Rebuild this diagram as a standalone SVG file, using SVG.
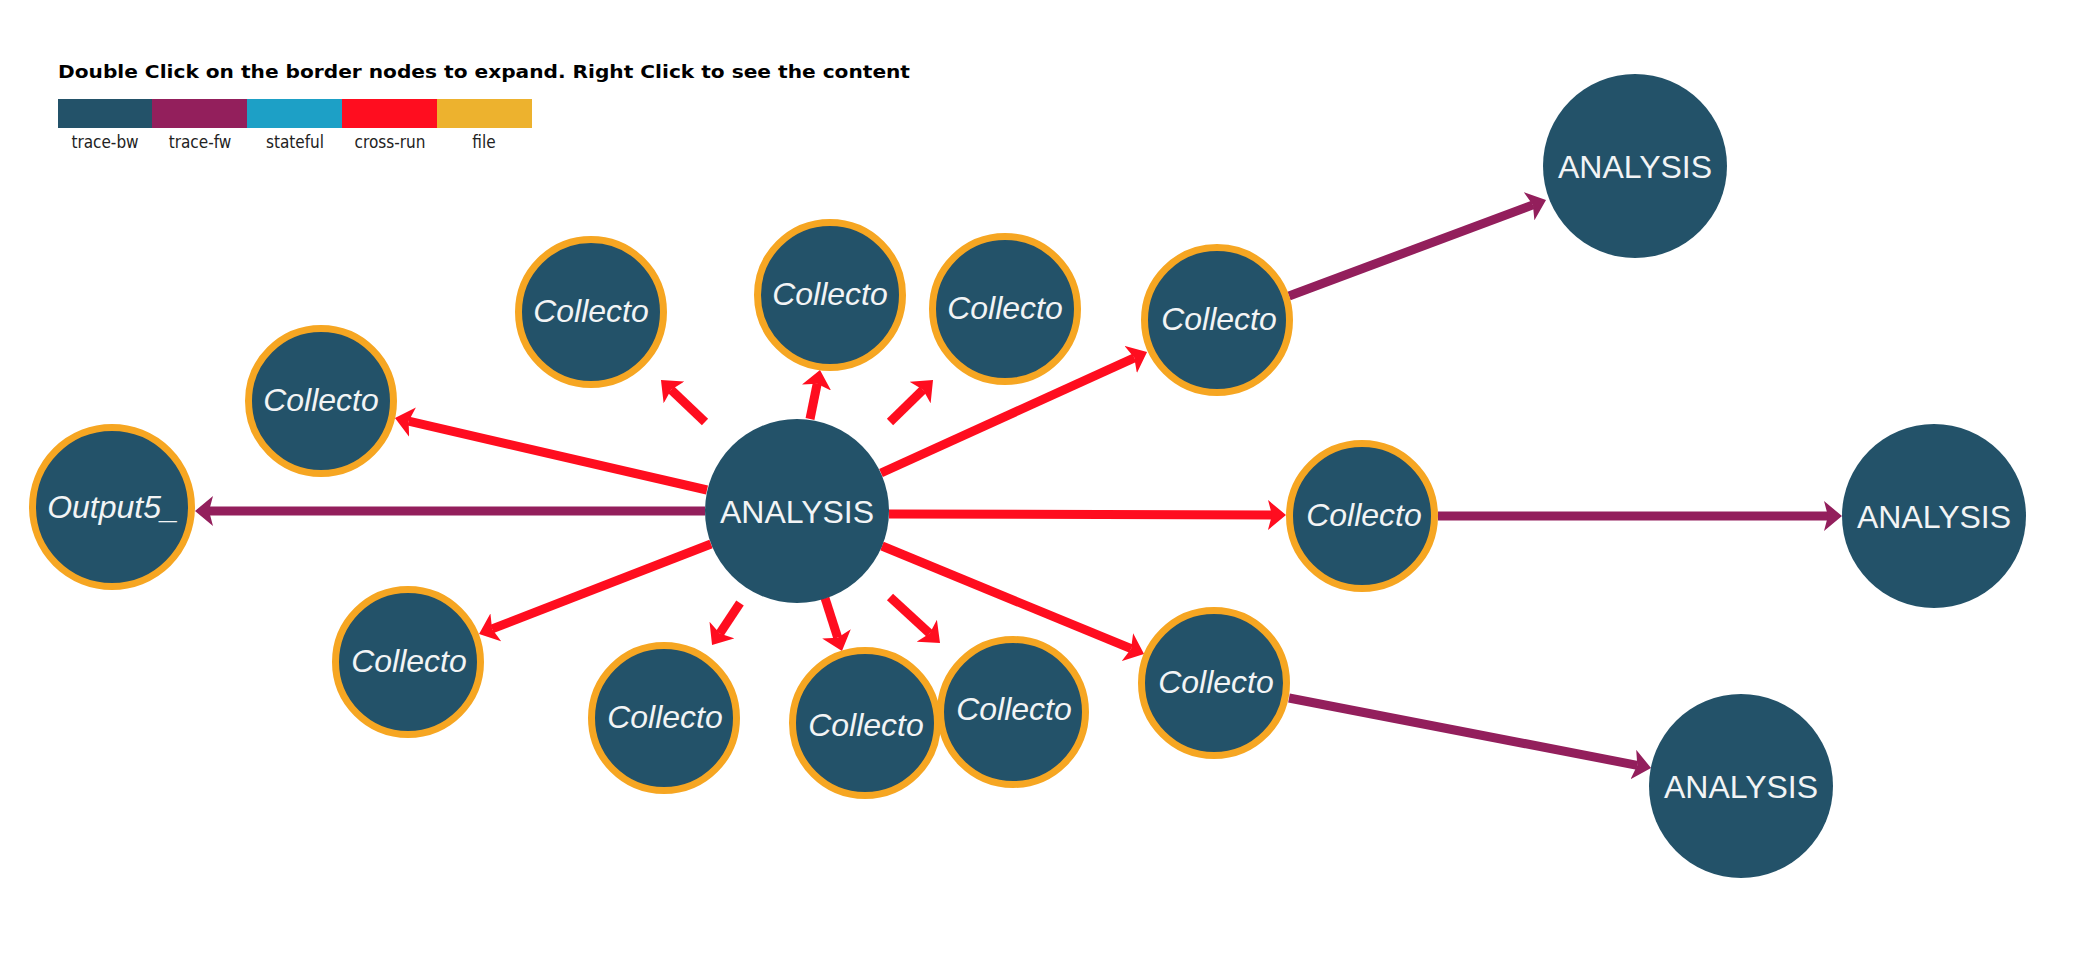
<svg xmlns="http://www.w3.org/2000/svg" width="2085" height="962" viewBox="0 0 2085 962">
<style>
.title{font-family:"DejaVu Sans","Liberation Sans",sans-serif;font-weight:bold;font-size:18px;fill:#000}
.leg{font-family:"DejaVu Sans Condensed","DejaVu Sans",sans-serif;font-size:17px;fill:#222;text-anchor:middle}
.e{fill:none;stroke-width:9;stroke-linecap:butt}
.cr{stroke:#FF0D1F}
.fw{stroke:#931F5C}
.nf{fill:#235269;stroke:#F6A622;stroke-width:7}
.na{fill:#235269}
.lbl{font-family:"Liberation Sans",Arial,sans-serif;font-size:32px;fill:#F2F4F5;text-anchor:middle}
.it{font-style:italic}
</style>
<defs>
<marker id="ar" viewBox="0 0 18 30" refX="4" refY="15" markerWidth="18" markerHeight="30" markerUnits="userSpaceOnUse" orient="auto">
<path d="M0,0 L18,15 L0,30 L4,15 Z" fill="#FF0D1F"/>
</marker>
<marker id="ap" viewBox="0 0 18 30" refX="4" refY="15" markerWidth="18" markerHeight="30" markerUnits="userSpaceOnUse" orient="auto">
<path d="M0,0 L18,15 L0,30 L4,15 Z" fill="#931F5C"/>
</marker>
</defs>
<rect width="2085" height="962" fill="#fff"/>
<g id="legend">
<text class="title" x="58" y="78" textLength="852" lengthAdjust="spacingAndGlyphs">Double Click on the border nodes to expand. Right Click to see the content</text>
<rect x="58" y="99" width="95" height="29" fill="#235269"/>
<rect x="152" y="99" width="96" height="29" fill="#931F5C"/>
<rect x="247" y="99" width="96" height="29" fill="#1DA0C6"/>
<rect x="342" y="99" width="96" height="29" fill="#FF0D1F"/>
<rect x="437" y="99" width="95" height="29" fill="#EDB22E"/>
<text class="leg" x="105" y="148">trace-bw</text>
<text class="leg" x="200" y="148">trace-fw</text>
<text class="leg" x="295" y="148">stateful</text>
<text class="leg" x="390" y="148">cross-run</text>
<text class="leg" x="484" y="148">file</text>
</g>
<g id="connectors">
<line class="e cr" x1="707" y1="490" x2="408.6" y2="421.2" marker-end="url(#ar)"/>
<line class="e cr" x1="705" y1="422" x2="671.1" y2="389.7" marker-end="url(#ar)"/>
<line class="e cr" x1="810" y1="419" x2="817.2" y2="383.7" marker-end="url(#ar)"/>
<line class="e cr" x1="890" y1="422" x2="923" y2="389.8" marker-end="url(#ar)"/>
<line class="e cr" x1="881" y1="473" x2="1134.3" y2="357.8" marker-end="url(#ar)"/>
<line class="e cr" x1="889" y1="514" x2="1272" y2="515" marker-end="url(#ar)"/>
<line class="e cr" x1="882" y1="546" x2="1131.1" y2="648.7" marker-end="url(#ar)"/>
<line class="e cr" x1="711" y1="544" x2="492.1" y2="628.9" marker-end="url(#ar)"/>
<line class="e cr" x1="740" y1="603" x2="719.8" y2="633.4" marker-end="url(#ar)"/>
<line class="e cr" x1="825" y1="598" x2="837.7" y2="637.7" marker-end="url(#ar)"/>
<line class="e cr" x1="890" y1="597" x2="929.7" y2="633.5" marker-end="url(#ar)"/>
<line class="e fw" x1="705" y1="511" x2="209" y2="511" marker-end="url(#ap)"/>
<line class="e fw" x1="1289" y1="296" x2="1532.9" y2="204.9" marker-end="url(#ap)"/>
<line class="e fw" x1="1438" y1="516" x2="1828" y2="516" marker-end="url(#ap)"/>
<line class="e fw" x1="1289" y1="698" x2="1637.3" y2="765.3" marker-end="url(#ap)"/>
</g>
<g id="n-center"><circle class="na" cx="797" cy="511" r="92"/><text class="lbl" x="797" y="523">ANALYSIS</text></g>
<g id="n-output5"><circle class="nf" cx="112" cy="507" r="79.5"/><text class="lbl it" x="113" y="518">Output5_</text></g>
<g id="n-l1"><circle class="nf" cx="321" cy="401" r="72.5"/><text class="lbl it" x="321" y="411">Collecto</text></g>
<g id="n-t1"><circle class="nf" cx="591" cy="312" r="72.5"/><text class="lbl it" x="591" y="322">Collecto</text></g>
<g id="n-t2"><circle class="nf" cx="830" cy="295" r="72.5"/><text class="lbl it" x="830" y="305">Collecto</text></g>
<g id="n-t3"><circle class="nf" cx="1005" cy="309" r="72.5"/><text class="lbl it" x="1005" y="319">Collecto</text></g>
<g id="n-r1"><circle class="nf" cx="1217" cy="320" r="72.5"/><text class="lbl it" x="1219" y="330">Collecto</text></g>
<g id="n-r2"><circle class="nf" cx="1362" cy="516" r="72.5"/><text class="lbl it" x="1364" y="526">Collecto</text></g>
<g id="n-r3"><circle class="nf" cx="1214" cy="683" r="72.5"/><text class="lbl it" x="1216" y="693">Collecto</text></g>
<g id="n-b1"><circle class="nf" cx="408" cy="662" r="72.5"/><text class="lbl it" x="409" y="672">Collecto</text></g>
<g id="n-b2"><circle class="nf" cx="664" cy="718" r="72.5"/><text class="lbl it" x="665" y="728">Collecto</text></g>
<g id="n-b3"><circle class="nf" cx="865" cy="723" r="72.5"/><text class="lbl it" x="866" y="736">Collecto</text></g>
<g id="n-b4"><circle class="nf" cx="1013" cy="712" r="72.5"/><text class="lbl it" x="1014" y="720">Collecto</text></g>
<g id="n-tr"><circle class="na" cx="1635" cy="166" r="92"/><text class="lbl" x="1635" y="178">ANALYSIS</text></g>
<g id="n-r"><circle class="na" cx="1934" cy="516" r="92"/><text class="lbl" x="1934" y="528">ANALYSIS</text></g>
<g id="n-br"><circle class="na" cx="1741" cy="786" r="92"/><text class="lbl" x="1741" y="798">ANALYSIS</text></g>
</svg>
